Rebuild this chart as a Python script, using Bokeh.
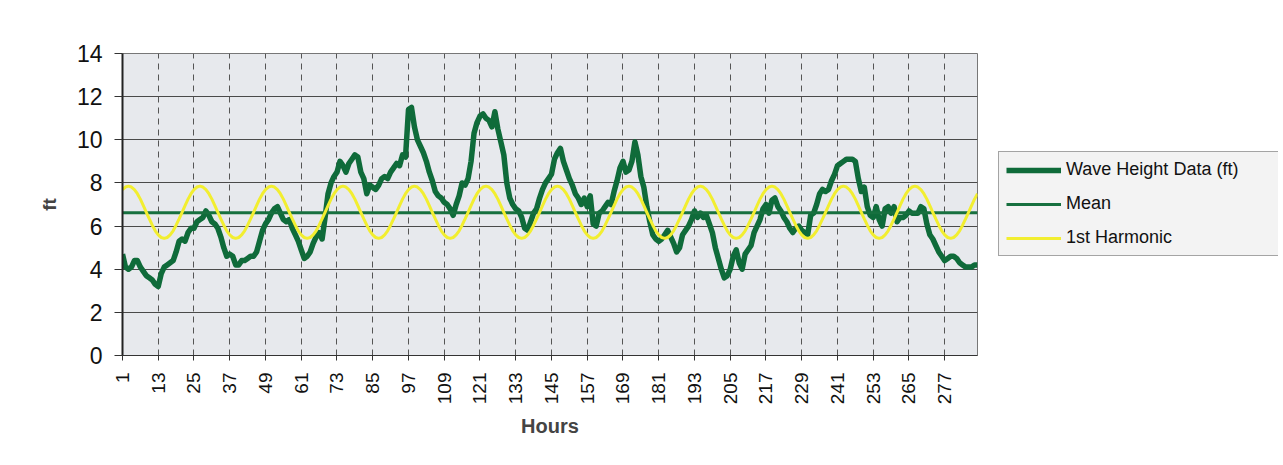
import math
from bokeh.plotting import figure
from bokeh.layouts import row
from bokeh.models import Range1d, FixedTicker, Legend, LegendItem
from bokeh.embed import file_html
from bokeh.resources import INLINE

# ---------------- data ----------------
hours = list(range(1, 289))

wave_ft = [
    4.7, 4.1, 4.0, 4.1, 4.4, 4.4, 4.1, 3.9, 3.7, 3.6, 3.5, 3.3,
    3.2, 3.8, 4.1, 4.2, 4.3, 4.4, 4.8, 5.3, 5.4, 5.3, 5.7, 5.9,
    5.9, 6.2, 6.3, 6.4, 6.7, 6.5, 6.2, 6.1, 5.9, 5.5, 5.0, 4.6,
    4.7, 4.6, 4.2, 4.2, 4.4, 4.4, 4.5, 4.6, 4.6, 4.8, 5.3, 5.8,
    6.1, 6.3, 6.6, 6.8, 6.9, 6.6, 6.3, 6.2, 6.3, 5.9, 5.6, 5.3,
    4.9, 4.5, 4.6, 4.8, 5.2, 5.5, 5.7, 5.4, 6.4, 7.5, 8.0, 8.3,
    8.5, 9.0, 8.8, 8.5, 8.9, 9.1, 9.3, 9.2, 8.5, 8.2, 7.5, 7.9,
    7.8, 7.7, 7.9, 8.2, 8.3, 8.2, 8.5, 8.7, 8.9, 8.8, 9.3, 9.2,
    11.4, 11.5, 10.6, 10.0, 9.7, 9.4, 9.0, 8.5, 8.1, 7.6, 7.4, 7.3,
    7.1, 7.0, 6.8, 6.5, 7.0, 7.4, 8.0, 7.9, 8.2, 9.0, 10.3, 10.8,
    11.1, 11.2, 11.0, 10.9, 10.6, 11.3, 10.5, 9.9, 9.3, 8.0, 7.3, 7.0,
    6.8, 6.7, 6.4, 5.9, 5.8, 6.2, 6.6, 6.8, 7.3, 7.7, 8.0, 8.2,
    8.4, 9.1, 9.4, 9.6, 9.0, 8.6, 8.2, 7.9, 7.5, 7.3, 7.0, 7.3,
    6.9, 7.4, 6.1, 6.0, 6.6, 6.7, 6.9, 7.1, 7.0, 7.6, 8.1, 8.7,
    9.0, 8.5, 8.6, 9.0, 9.9, 9.3, 8.3, 7.8, 6.9, 6.2, 5.6, 5.4,
    5.3, 5.4, 5.6, 5.8, 5.5, 5.2, 4.8, 5.0, 5.6, 5.8, 6.0, 6.3,
    6.7, 6.4, 6.6, 6.4, 6.5, 6.1, 5.7, 5.0, 4.5, 4.0, 3.6, 3.7,
    4.0, 4.6, 4.9, 4.3, 4.0, 4.7, 4.9, 5.1, 5.7, 6.0, 6.3, 6.8,
    7.0, 6.6, 7.2, 7.3, 6.9, 6.7, 6.4, 6.2, 5.9, 5.7, 5.9, 6.0,
    5.8, 5.7, 5.6, 6.5, 6.6, 7.0, 7.5, 7.7, 7.6, 7.7, 8.1, 8.4,
    8.8, 8.9, 9.0, 9.1, 9.1, 9.1, 9.0, 8.2, 7.6, 7.8, 6.9, 6.5,
    6.4, 6.9, 6.3, 6.0, 6.8, 6.9, 6.6, 6.9, 6.2, 6.4, 6.4, 6.5,
    6.7, 6.6, 6.6, 6.6, 6.9, 6.8, 6.1, 5.6, 5.4, 5.1, 4.8, 4.6,
    4.4, 4.5, 4.6, 4.6, 4.5, 4.3, 4.2, 4.1, 4.1, 4.1, 4.2, 4.2,
]

mean_ft = 6.62

# one daily (24 h) cycle of the 1st harmonic, repeated for the 12 days shown
harmonic_day = [
    7.69, 7.81, 7.85, 7.81, 7.69, 7.50, 7.25, 6.95, 6.64, 6.33, 6.04, 5.78,
    5.59, 5.47, 5.43, 5.47, 5.59, 5.78, 6.04, 6.33, 6.64, 6.95, 7.25, 7.50,
]
harmonic_ft = harmonic_day * 12

x_tick_hours = list(range(1, 278, 12))
y_ticks = list(range(0, 15, 2))

series_names = ["Wave Height Data (ft)", "Mean", "1st Harmonic"]

# ---------------- styling ----------------
FONT = "Liberation Sans"
WAVE_COLOR = "#0f6b3a"
MEAN_COLOR = "#17703f"
HARM_COLOR = "#f2ee30"

# ---------------- main chart ----------------
p = figure(
    width=985, height=449,
    output_backend="svg", toolbar_location=None,
    x_range=Range1d(hours[0], hours[-1]), y_range=Range1d(0, 14),
    min_border_left=122, min_border_right=8,
    min_border_top=53, min_border_bottom=94,
    background_fill_color="#e7e9ed", border_fill_color="white",
)
p.outline_line_color = "#777777"
p.outline_line_width = 1

p.ygrid.ticker = FixedTicker(ticks=y_ticks)
p.ygrid.grid_line_color = "#4a4a4a"
p.ygrid.grid_line_width = 1
p.xgrid.ticker = FixedTicker(ticks=x_tick_hours[1:])
p.xgrid.grid_line_color = "#555555"
p.xgrid.grid_line_dash = "6 5"
p.xgrid.grid_line_width = 1

xa = p.xaxis[0]
xa.ticker = FixedTicker(ticks=x_tick_hours)
xa.major_label_orientation = math.pi / 2
xa.minor_tick_line_color = None
xa.major_tick_in = 0
xa.major_tick_out = 5
xa.major_tick_line_color = "#333333"
xa.axis_line_color = "#333333"
xa.major_label_standoff = 12
xa.major_label_text_font = FONT
xa.major_label_text_font_size = "19px"
xa.major_label_text_color = "#111111"
xa.axis_label = "Hours"
xa.axis_label_text_font = FONT
xa.axis_label_text_font_size = "20px"
xa.axis_label_text_font_style = "bold"
xa.axis_label_standoff = 8

ya = p.yaxis[0]
ya.ticker = FixedTicker(ticks=y_ticks)
ya.minor_tick_line_color = None
ya.major_tick_in = 0
ya.major_tick_out = 8
ya.major_tick_line_color = "#333333"
ya.axis_line_color = "#222222"
ya.axis_line_width = 2
ya.major_label_standoff = 12
ya.major_label_text_font = FONT
ya.major_label_text_font_size = "23px"
ya.major_label_text_color = "#111111"
ya.axis_label = "ft"
ya.axis_label_text_font = FONT
ya.axis_label_text_font_size = "19px"
ya.axis_label_text_font_style = "bold"
ya.axis_label_standoff = 14

p.line(hours, wave_ft, line_color=WAVE_COLOR, line_width=5.5, line_join="round")
p.line(hours, [mean_ft] * len(hours), line_color=MEAN_COLOR, line_width=3)
p.line(hours, harmonic_ft, line_color=HARM_COLOR, line_width=3)

# ---------------- legend panel (to the right of the chart) ----------------
lg = figure(
    width=295, height=449,
    output_backend="svg", toolbar_location=None,
    x_range=Range1d(0, 1), y_range=Range1d(0, 1),
    min_border_left=13, min_border_right=2, min_border_top=53, min_border_bottom=94,
    x_axis_type=None, y_axis_type=None,
    background_fill_color="white", border_fill_color="white",
)
lg.outline_line_color = None
lg.grid.visible = False

# legend keys: single off-range points, so only their legend swatches show
k_wave = lg.line([-1], [-1], line_color=WAVE_COLOR, line_width=5.5)
k_mean = lg.line([-1], [-1], line_color=MEAN_COLOR, line_width=3)
k_harm = lg.line([-1], [-1], line_color=HARM_COLOR, line_width=3)

legend = Legend(
    items=[
        LegendItem(label=series_names[0], renderers=[k_wave]),
        LegendItem(label=series_names[1], renderers=[k_mean]),
        LegendItem(label=series_names[2], renderers=[k_harm]),
    ],
    location=(0, 99),
    orientation="vertical",
    padding=7, spacing=13, margin=0,
    glyph_width=55, glyph_height=20,
    label_height=20, label_width=205, label_standoff=5,
    label_text_font=FONT, label_text_font_size="18px", label_text_color="#111111",
    border_line_color="#555555", border_line_width=1,
    background_fill_color="#f3f3f3", background_fill_alpha=1.0,
)
lg.add_layout(legend)

layout = row(p, lg)
open("out.html", "w").write(file_html(layout, INLINE))
